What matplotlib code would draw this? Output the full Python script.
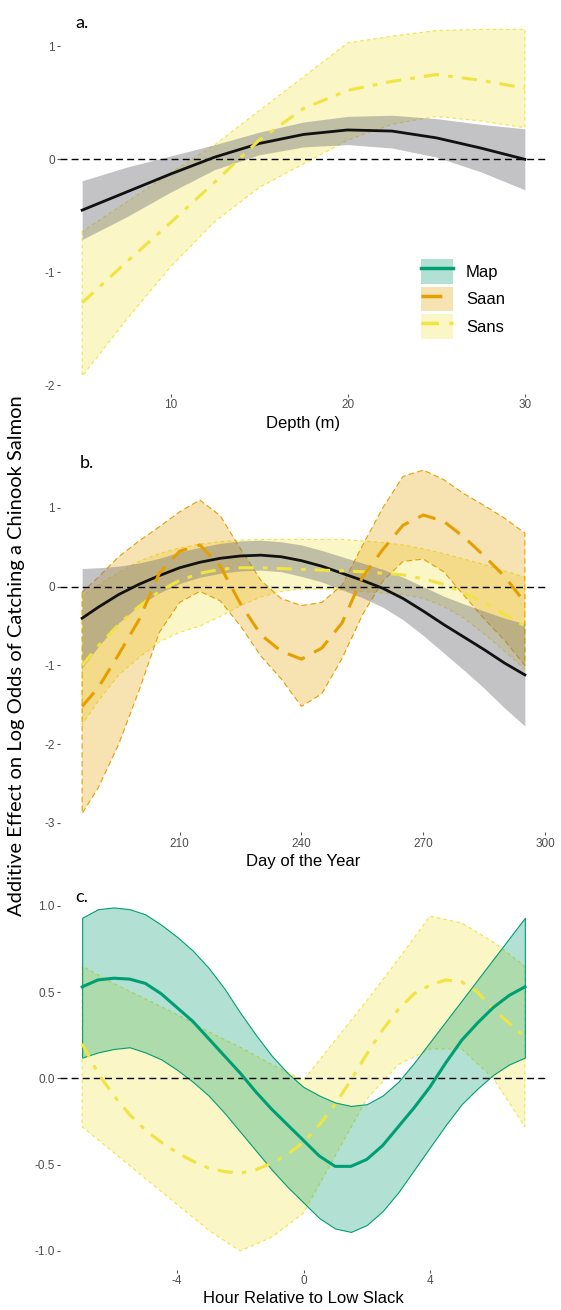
import numpy as np
import matplotlib
matplotlib.use('Agg')
import matplotlib.pyplot as plt
from matplotlib.colors import to_rgba
from matplotlib.patches import Patch
from matplotlib.lines import Line2D

# ---- data ----
# a. depth
depth = [5, 7.5, 10, 12.5, 15, 17.5, 20, 22.5, 25, 27.5, 30]
all_fit_a = [-0.45, -0.29, -0.13, 0.02, 0.14, 0.22, 0.26, 0.25, 0.19, 0.10, 0.0]
all_lo_a = [-0.71, -0.51, -0.29, -0.09, 0.04, 0.11, 0.13, 0.10, 0.02, -0.11, -0.27]
all_hi_a = [-0.19, -0.07, 0.03, 0.13, 0.24, 0.33, 0.38, 0.39, 0.36, 0.31, 0.27]
sans_fit_a = [-1.27, -0.91, -0.56, -0.20, 0.17, 0.45, 0.61, 0.69, 0.75, 0.70, 0.63]
sans_hi_a = [-0.64, -0.38, -0.12, 0.13, 0.43, 0.73, 1.03, 1.09, 1.14, 1.15, 1.15]
sans_lo_a = [-1.92, -1.42, -0.95, -0.55, -0.25, -0.04, 0.17, 0.31, 0.38, 0.34, 0.28]

# b. day of year
day = [186, 190, 195, 200, 205, 210, 215, 220, 225, 230, 235, 240,
       245, 250, 255, 260, 265, 270, 275, 280, 285, 290, 295]
all_fit_b = [-0.40, -0.26, -0.10, 0.03, 0.14, 0.24, 0.31, 0.36, 0.39, 0.40, 0.38, 0.33,
             0.26, 0.17, 0.08, -0.02, -0.15, -0.31, -0.48, -0.64, -0.80, -0.97, -1.12]
all_hi_b = [0.23, 0.24, 0.26, 0.30, 0.36, 0.44, 0.50, 0.55, 0.58, 0.59, 0.57, 0.53,
            0.46, 0.38, 0.30, 0.22, 0.12, 0.0, -0.12, -0.22, -0.31, -0.40, -0.47]
all_lo_b = [-1.03, -0.76, -0.46, -0.24, -0.08, 0.04, 0.12, 0.17, 0.20, 0.21, 0.19, 0.13,
            0.06, -0.04, -0.14, -0.26, -0.42, -0.62, -0.84, -1.06, -1.29, -1.54, -1.77]
saan_fit_b = [-1.52, -1.28, -0.86, -0.42, 0.17, 0.45, 0.53, 0.26, -0.22, -0.61, -0.82, -0.92,
              -0.78, -0.46, 0.12, 0.47, 0.78, 0.91, 0.83, 0.63, 0.39, 0.13, -0.20]
saan_hi_b = [-0.07, 0.12, 0.38, 0.58, 0.76, 0.95, 1.10, 0.90, 0.48, 0.08, -0.15, -0.24,
             -0.20, 0.02, 0.52, 1.00, 1.40, 1.48, 1.36, 1.18, 1.03, 0.87, 0.68]
saan_lo_b = [-2.88, -2.55, -2.00, -1.32, -0.58, -0.20, -0.06, -0.18, -0.50, -0.88, -1.17, -1.52,
             -1.36, -0.91, -0.36, 0.07, 0.32, 0.35, 0.19, -0.11, -0.41, -0.68, -1.00]
sans_fit_b = [-1.00, -0.75, -0.48, -0.25, -0.06, 0.08, 0.17, 0.22, 0.24, 0.24, 0.23, 0.22,
              0.21, 0.20, 0.19, 0.17, 0.15, 0.10, 0.03, -0.08, -0.20, -0.35, -0.50]
sans_hi_b = [-0.12, 0.02, 0.18, 0.32, 0.42, 0.49, 0.54, 0.57, 0.59, 0.60, 0.60, 0.60,
             0.60, 0.60, 0.58, 0.56, 0.53, 0.48, 0.42, 0.35, 0.28, 0.20, 0.12]
sans_lo_b = [-1.75, -1.45, -1.12, -0.90, -0.70, -0.58, -0.50, -0.38, -0.24, -0.13, -0.06, -0.03,
             -0.03, -0.04, -0.06, -0.08, -0.10, -0.15, -0.25, -0.40, -0.60, -0.82, -1.05]

# c. hour relative to low slack
hour = [-7, -6.5, -6, -5.5, -5, -4.5, -4, -3.5, -3, -2.5, -2, -1.5, -1, -0.5, 0,
        0.5, 1, 1.5, 2, 2.5, 3, 3.5, 4, 4.5, 5, 5.5, 6, 6.5, 7]
map_fit_c = [0.53, 0.57, 0.58, 0.575, 0.55, 0.49, 0.41, 0.33, 0.23, 0.13, 0.03, -0.08, -0.18, -0.27, -0.36,
             -0.45, -0.51, -0.51, -0.47, -0.39, -0.28, -0.17, -0.05, 0.09, 0.22, 0.32, 0.41, 0.48, 0.53]
map_hi_c = [0.93, 0.98, 0.99, 0.98, 0.95, 0.89, 0.82, 0.74, 0.64, 0.52, 0.38, 0.25, 0.13, 0.03, -0.05,
            -0.10, -0.14, -0.16, -0.15, -0.10, -0.02, 0.09, 0.21, 0.33, 0.45, 0.57, 0.69, 0.81, 0.93]
map_lo_c = [0.12, 0.15, 0.17, 0.18, 0.15, 0.11, 0.05, -0.02, -0.10, -0.20, -0.31, -0.42, -0.53, -0.63, -0.72,
            -0.81, -0.87, -0.89, -0.85, -0.77, -0.66, -0.53, -0.40, -0.27, -0.15, -0.06, 0.02, 0.08, 0.12]
sans_fit_c = [0.20, 0.03, -0.10, -0.21, -0.30, -0.37, -0.43, -0.48, -0.52, -0.54, -0.55, -0.53, -0.49, -0.44, -0.37,
              -0.27, -0.15, -0.01, 0.14, 0.28, 0.40, 0.49, 0.54, 0.57, 0.56, 0.50, 0.40, 0.32, 0.24]
hour_band = [-7, -6, -5, -4, -3, -2, -1, 0, 1, 2, 3, 4, 5, 6, 7]
sans_hi_c = [0.65, 0.55, 0.46, 0.37, 0.27, 0.18, 0.08, -0.01, 0.22, 0.45, 0.69, 0.94, 0.90, 0.79, 0.65]
sans_lo_c = [-0.28, -0.43, -0.58, -0.73, -0.88, -1.00, -0.92, -0.78, -0.45, -0.12, 0.08, 0.17, 0.17, 0.0, -0.28]

groups = ['Map', 'Saan', 'Sans']
colors = {'Map': '#009E73', 'Saan': '#E69F00', 'Sans': '#F0E442'}
line_ls = {'Map': '-', 'Saan': (0, (6, 3.5)), 'Sans': (0, (5, 3, 1.5, 3))}
edge_ls = {'Map': '-', 'Saan': (0, (5, 3)), 'Sans': (0, (3, 3))}

plt.rcParams['font.family'] = ['Liberation Sans', 'DejaVu Sans']
plt.rcParams['axes.unicode_minus'] = False

W, H = 561, 1310
fig = plt.figure(figsize=(W / 100, H / 100), dpi=100)


def px_axes(left, top, right, bottom):
    return fig.add_axes([left / W, 1 - bottom / H, (right - left) / W, (bottom - top) / H])


def style(ax, xlim, ylim, xticks, yticks, ylabels, xlabel):
    ax.set_xlim(*xlim)
    ax.set_ylim(*ylim)
    for s in ax.spines.values():
        s.set_visible(False)
    ax.set_xticks(xticks)
    ax.set_yticks(yticks)
    ax.set_yticklabels(ylabels)
    ax.tick_params(length=2.2, width=0.8, color='#555555', labelcolor='#4D4D4D',
                   labelsize=8.5, pad=1.5)
    ax.set_xlabel(xlabel, fontsize=12, labelpad=3)
    ax.axhline(0, color='black', lw=1, ls=(0, (5, 3)), zorder=4)


def band(ax, x, lo, hi, g):
    ax.fill_between(x, lo, hi, facecolor=to_rgba(colors[g], 0.3), edgecolor=colors[g],
                    linestyle=edge_ls[g], linewidth=0.8, zorder=2)


def fit(ax, x, y, g):
    ax.plot(x, y, color=colors[g], ls=line_ls[g], lw=2.2, zorder=6)


def overall(ax, x, y, lo, hi):
    ax.fill_between(x, lo, hi, color='#7a7a80', alpha=0.45, lw=0, zorder=3)
    ax.plot(x, y, color='#111111', lw=2, zorder=5)


# a.
ax_a = px_axes(60, 14.7, 547, 394.3)
band(ax_a, depth, sans_lo_a, sans_hi_a, 'Sans')
overall(ax_a, depth, all_fit_a, all_lo_a, all_hi_a)
fit(ax_a, depth, sans_fit_a, 'Sans')
style(ax_a, (3.75, 31.25), (-2.08, 1.28), [10, 20, 30], [-2, -1, 0, 1],
      ['-2', '-1', '0', '1'], 'Depth (m)')

# b.
ax_b = px_axes(60, 451.2, 547, 832.4)
band(ax_b, day, sans_lo_b, sans_hi_b, 'Sans')
band(ax_b, day, saan_lo_b, saan_hi_b, 'Saan')
overall(ax_b, day, all_fit_b, all_lo_b, all_hi_b)
fit(ax_b, day, sans_fit_b, 'Sans')
fit(ax_b, day, saan_fit_b, 'Saan')
style(ax_b, (180.55, 300.45), (-3.12, 1.72), [210, 240, 270, 300], [-3, -2, -1, 0, 1],
      ['-3', '-2', '-1', '0', '1'], 'Day of the Year')

# c.
ax_c = px_axes(60, 890.2, 547, 1269.9)
band(ax_c, hour_band, sans_lo_c, sans_hi_c, 'Sans')
band(ax_c, hour, map_lo_c, map_hi_c, 'Map')
fit(ax_c, hour, sans_fit_c, 'Sans')
fit(ax_c, hour, map_fit_c, 'Map')
style(ax_c, (-7.7, 7.7), (-1.11, 1.09), [-4, 0, 4], [-1.0, -0.5, 0.0, 0.5, 1.0],
      ['-1.0', '-0.5', '0.0', '0.5', '1.0'], 'Hour Relative to Low Slack')

# legend in panel a
handles = [(Patch(facecolor=to_rgba(colors[g], 0.3), edgecolor='none'),
            Line2D([], [], color=colors[g], ls=line_ls[g], lw=2.5)) for g in groups]
ax_a.legend(handles, groups, loc='upper left', bbox_to_anchor=(421 / W, 1 - 259 / H),
            bbox_transform=fig.transFigure, frameon=False, fontsize=12,
            handlelength=1.9, handleheight=1.9, labelspacing=0.18, handletextpad=0.8,
            borderpad=0, borderaxespad=0)

# panel letters and shared y title
lab_font = ['Lato', 'DejaVu Sans']
for txt, x, y in [('a.', 75, 23), ('b.', 80, 463), ('c.', 75, 897)]:
    fig.text(x / W, 1 - y / H, txt, family=lab_font, fontsize=13, va='center', ha='left')
fig.text(17 / W, 1 - 656 / H, 'Additive Effect on Log Odds of Catching a Chinook Salmon',
         family=lab_font, fontsize=14.5, rotation=90, va='center', ha='center')

fig.savefig('out.png', dpi=100)
